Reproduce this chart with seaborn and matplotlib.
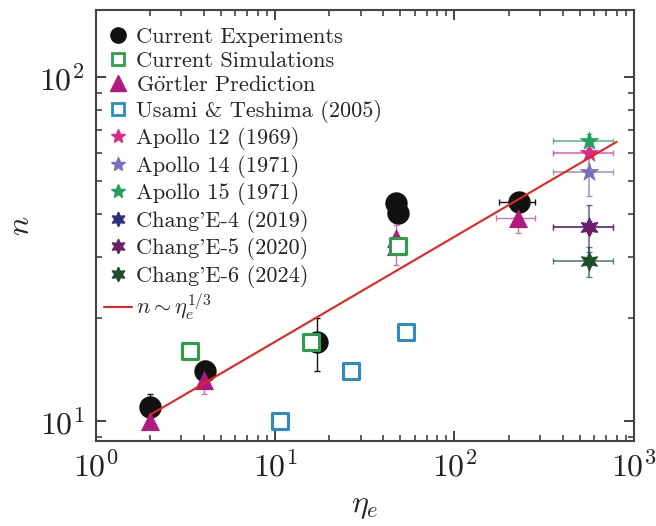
import numpy as np
import pandas as pd
import matplotlib
matplotlib.use('Agg')
import matplotlib.pyplot as plt
from matplotlib.lines import Line2D
import seaborn as sns

sns.set_theme(style='ticks')
plt.rcParams['font.family'] = ['cmr10', 'DejaVu Serif']
plt.rcParams['mathtext.fontset'] = 'cm'
plt.rcParams['axes.formatter.use_mathtext'] = True

# data
exp_eta = [2.0, 4.1, 17.2, 47.2, 48.3, 230.0]
exp_n = [11.0, 14.0, 17.0, 42.9, 40.2, 43.4]
exp_n_err = [1.0, 1.0, 3.0, 0.0, 0.0, 0.0]
exp_eta_err = [0.0, 0.0, 0.0, 0.0, 0.0, 52.0]

sim_eta = [3.37, 15.8, 48.2]
sim_n = [16.0, 17.0, 32.3]

gort_eta = [2.0, 4.0, 47.1, 47.1, 225.0]
gort_n = [10.0, 13.2, 34.0, 32.3, 38.8]
gort_n_lo = [0.0, 1.2, 0.0, 3.9, 3.5]
gort_n_hi = [0.0, 0.8, 0.0, 4.8, 2.3]
gort_eta_err = [0.0, 0.0, 0.0, 0.0, 55.0]

usami_eta = [10.6, 26.4, 53.6]
usami_n = [10.0, 14.0, 18.1]

lunar_names = ['Apollo 12 (1969)', 'Apollo 14 (1971)', 'Apollo 15 (1971)',
               "Chang'E-4 (2019)", "Chang'E-5 (2020)", "Chang'E-6 (2024)"]
lunar_eta = 560.0
lunar_eta_err = 204.0
lunar_n = [60.3, 53.0, 65.3, 36.7, 36.7, 29.2]
lunar_n_err = [1.5, 7.8, 3.0, 5.7, 1.5, 2.9]
lunar_colors = ['#d82a8c', '#7b6db9', '#21a05a', '#2b2f7e', '#6b1f6b', '#1e4d28']
lunar_markers = ['*', '*', '*', (6, 1, 0), (6, 1, 0), (6, 1, 0)]

fit_eta = [2.0, 800.0]
fit_n = [10.4, 64.8]

c_exp = '#111111'
c_sim = '#2ca048'
c_gort = '#b0197d'
c_usami = '#2b8cc4'
c_line = '#e8231f'

fig, ax = plt.subplots(figsize=(6.56, 5.26), dpi=100)
fig.subplots_adjust(left=95.5/656, right=634/656, bottom=(526-440.7)/526, top=(526-10)/526)

# error bars
ax.errorbar(exp_eta, exp_n, yerr=exp_n_err, xerr=exp_eta_err, fmt='none',
            ecolor=c_exp, elinewidth=1.0, capsize=2.5, zorder=1)
ax.errorbar(gort_eta, gort_n, yerr=[gort_n_lo, gort_n_hi], xerr=gort_eta_err, fmt='none',
            ecolor='#d170ae', elinewidth=1.0, capsize=2.5, zorder=1)
for i in range(len(lunar_n)):
    ax.errorbar([lunar_eta], [lunar_n[i]], yerr=[lunar_n_err[i]], xerr=[lunar_eta_err],
                fmt='none', ecolor=lunar_colors[i], alpha=0.7, elinewidth=1.2,
                capsize=2.5, zorder=1)

# markers
sns.scatterplot(x=exp_eta, y=exp_n, ax=ax, marker='o', s=260, color=c_exp,
                linewidth=0, zorder=2)
sns.scatterplot(x=gort_eta, y=gort_n, ax=ax, marker='^', s=190, color=c_gort,
                linewidth=0, zorder=3)
sns.scatterplot(x=sim_eta, y=sim_n, ax=ax, marker='s', s=120, color='white',
                edgecolor=c_sim, linewidth=2.2, zorder=4)
sns.scatterplot(x=usami_eta, y=usami_n, ax=ax, marker='s', s=120, color='white',
                edgecolor=c_usami, linewidth=2.2, zorder=4)
for i in range(len(lunar_n)):
    sns.scatterplot(x=[lunar_eta], y=[lunar_n[i]], ax=ax, marker=lunar_markers[i],
                    s=190, color=lunar_colors[i], edgecolor=lunar_colors[i],
                    linewidth=0.5, zorder=5)

sns.lineplot(x=fit_eta, y=fit_n, ax=ax, color=c_line, linewidth=1.5, zorder=6)

ax.set_xscale('log')
ax.set_yscale('log')
ax.set_xlim(1, 1000)
ax.set_ylim(8.77, 156.6)

ax.set_xlabel(r'$\eta_e$', fontsize=23, labelpad=8)
ax.set_ylabel(r'$n$', fontsize=23, labelpad=3)

ax.tick_params(which='both', direction='in', top=True, right=True, colors='#333333',
               labelsize=23)
ax.tick_params(which='major', length=7.5, width=1.3)
ax.tick_params(which='minor', length=4, width=1.1)
ax.tick_params(axis='x', pad=7)
ax.tick_params(axis='y', pad=8)
for sp in ax.spines.values():
    sp.set_color('#444444')
    sp.set_linewidth(1.5)
for t in ax.get_xticklabels() + ax.get_yticklabels():
    t.set_color('#222222')

handles = [
    Line2D([], [], ls='none', marker='o', ms=11, mfc=c_exp, mec=c_exp),
    Line2D([], [], ls='none', marker='s', ms=8.5, mfc='white', mec=c_sim, mew=2),
    Line2D([], [], ls='none', marker='^', ms=11, mfc=c_gort, mec=c_gort),
    Line2D([], [], ls='none', marker='s', ms=8.5, mfc='white', mec=c_usami, mew=2),
]
for i in range(len(lunar_n)):
    handles.append(Line2D([], [], ls='none', marker=lunar_markers[i], ms=10.5,
                          mfc=lunar_colors[i], mec=lunar_colors[i]))
handles.append(Line2D([], [], color=c_line, lw=1.5))
labels = ['Current Experiments', 'Current Simulations', r'G$\ddot{\rm o}$rtler Prediction',
          'Usami & Teshima (2005)'] + lunar_names + [r'$n\sim\eta_e^{1/3}$']

ax.legend(handles, labels, loc='upper left', bbox_to_anchor=(0.003, 0.976),
          frameon=False, fontsize=16.1, labelspacing=0.2, handlelength=1.25,
          handletextpad=0.18, borderaxespad=0, borderpad=0.3)

fig.savefig('out.png', dpi=100)
